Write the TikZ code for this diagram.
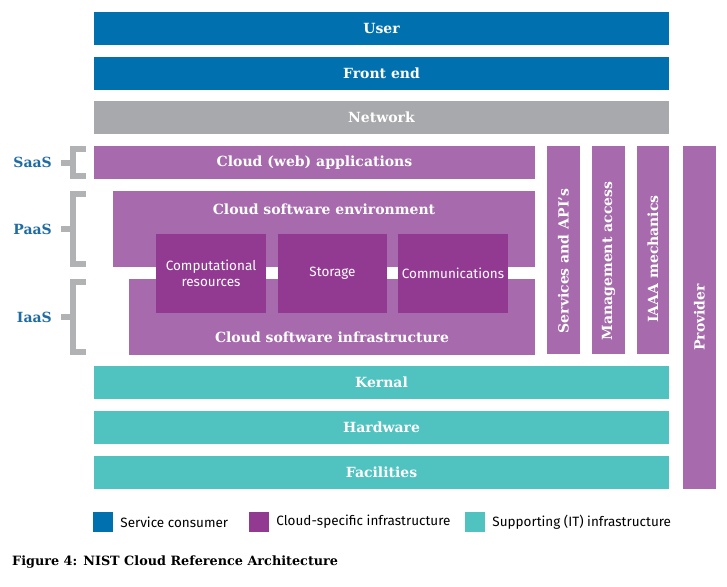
\documentclass[tikz,border=0pt]{standalone}
\usepackage{fontspec}
\usepackage{xcolor}
\usepackage{tikz}
\usetikzlibrary{positioning}

\newfontfamily\slabfont{DejaVu Serif}
\newfontfamily\plainsans{Fira Sans}

\definecolor{consumerblue}{RGB}{0,113,174}
\definecolor{netgray}{RGB}{168,169,172}
\definecolor{cloudlight}{RGB}{166,106,173}
\definecolor{clouddark}{RGB}{146,58,146}
\definecolor{supportteal}{RGB}{80,194,192}
\definecolor{tierblue}{RGB}{31,108,163}
\definecolor{bracketgray}{RGB}{176,178,180}

\begin{document}
\begin{tikzpicture}[
        x=1pt, y=-1pt,
        % 统一的色块风格
        bar/.style={inner sep=0pt, outer sep=0pt, minimum height=33pt, text=white,
                    font=\slabfont\bfseries\fontsize{14}{16}\selectfont},
        consumer_bar/.style={bar, fill=consumerblue, minimum width=575pt},
        net_bar/.style={bar, fill=netgray, minimum width=575pt},
        cloud_bar/.style={bar, fill=cloudlight},
        support_bar/.style={bar, fill=supportteal, minimum width=575pt},
        side_bar/.style={bar, fill=cloudlight, rotate=90},
        side_text/.style={bar, minimum height=0pt, rotate=90},
        res_node/.style={inner sep=0pt, fill=clouddark, text=white, minimum width=110pt, minimum height=79pt,
                    align=center, font=\plainsans\fontsize{13.5}{16}\selectfont},
        tier_label/.style={inner sep=0pt, text=tierblue, font=\slabfont\bfseries\fontsize{14}{16}\selectfont},
        bracket/.style={draw=bracketgray, line width=6pt, miter limit=10},
        key_box/.style={inner sep=0pt, minimum size=20pt},
        key_text/.style={inner sep=0pt, font=\plainsans\fontsize{13.5}{16}\selectfont}
    ]

    \useasboundingbox (0,0) rectangle (727,586);

    % --- 服务使用者与网络 ---
    \node[consumer_bar] (user_bar) at (381.5,28.5) {User};
    \node[consumer_bar] (front_bar) at (381.5,73) {Front end};
    \node[net_bar] (network_bar) at (381.5,117.5) {Network};

    % --- 云服务层 ---
    \node[cloud_bar, minimum width=441pt] (apps_box) at (314.5,162.5) {Cloud (web) applications};
    \node[cloud_bar, minimum width=422pt, minimum height=76pt] (env_box) at (324,229) {};
    \node[cloud_bar, minimum width=406pt, minimum height=76pt] (infra_box) at (332,317) {};
    \node[bar] (env_title) at (324,209) {Cloud software environment};
    \node[bar] (infra_title) at (332,337) {Cloud software infrastructure};

    % --- 资源三件套 ---
    \node[res_node] (compute_box) at (211,273.5) {Computational\\resources};
    \node[res_node, minimum width=109pt] (storage_box) at (332.5,273.5) {Storage};
    \node[res_node] (comm_box) at (453,273.5) {Communications};

    % --- 竖向管理列 (文字略偏下) ---
    \node[side_bar, minimum width=208pt] (api_bar) at (563.5,250) {};
    \node[side_bar, minimum width=208pt] (mgmt_bar) at (608.5,250) {};
    \node[side_bar, minimum width=208pt, minimum height=32pt] (iaaa_bar) at (653,250) {};
    \node[side_bar, minimum width=343pt] (provider_bar) at (699.5,317.5) {};
    \node[side_text] (api_text) at ([yshift=-11pt]api_bar.center) {Services and API’s};
    \node[side_text] (mgmt_text) at ([yshift=-11pt]mgmt_bar.center) {Management access};
    \node[side_text] (iaaa_text) at ([yshift=-9pt]iaaa_bar.center) {IAAA mechanics};
    \node[side_text] (provider_text) at (provider_bar.center) {Provider};

    % --- 支撑层 ---
    \node[support_bar] (kernal_bar) at (381.5,382.5) {Kernal};
    \node[support_bar] (hardware_bar) at (381.5,427.5) {Hardware};
    \node[support_bar] (facility_bar) at (381.5,472.5) {Facilities};

    % --- 左侧 SaaS / PaaS / IaaS 括号 ---
    \foreach \tier/\ytop/\ybot in {SaaS/146/179, PaaS/191/267, IaaS/279/355} {
        \draw[bracket] (86,\ytop+3) -- (73,\ytop+3) -- (73,\ybot-3) -- (86,\ybot-3);
        \draw[bracket] (61,{(\ytop+\ybot)/2}) -- (73,{(\ytop+\ybot)/2});
        \node[tier_label, anchor=east] (\tier_label) at (52,{(\ytop+\ybot)/2}) {\tier};
    }

    % --- 图例 ---
    \node[key_box, fill=consumerblue] (consumer_key) at (103,522) {};
    \node[key_text, right=7pt of consumer_key] (consumer_text) {Service consumer};
    \node[key_box, fill=clouddark] (cloud_key) at (259,522) {};
    \node[key_text, right=7pt of cloud_key] (cloud_text) {Cloud-specific infrastructure};
    \node[key_box, fill=supportteal] (support_key) at (475,522) {};
    \node[key_text, right=7pt of support_key] (support_text) {Supporting (IT) infrastructure};

    % --- 图题 ---
    \node[anchor=base west, inner sep=0pt, font=\slabfont\bfseries\fontsize{12.8}{15}\selectfont]
        (fig_caption) at (12,565) {Figure 4: NIST Cloud Reference Architecture};

\end{tikzpicture}
\end{document}
